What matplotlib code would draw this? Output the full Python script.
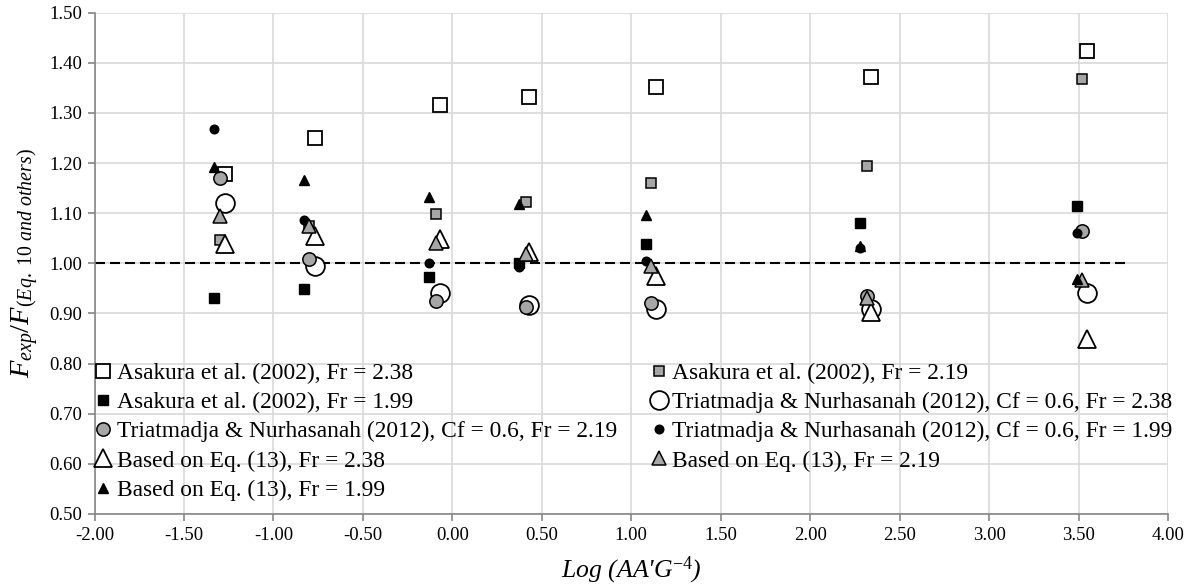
import matplotlib
matplotlib.use("Agg")
import matplotlib.pyplot as plt

plt.rcParams['font.family'] = ['Liberation Serif', 'DejaVu Serif']
plt.rcParams['mathtext.fontset'] = 'custom'
plt.rcParams['mathtext.rm'] = 'Liberation Serif'
plt.rcParams['mathtext.it'] = 'Liberation Serif:italic'
plt.rcParams['mathtext.bf'] = 'Liberation Serif:bold'

# ---- data ----
x_fr238 = [-1.27, -0.77, -0.07, 0.43, 1.14, 2.34, 3.55]
x_fr219 = [-1.30, -0.80, -0.09, 0.41, 1.11, 2.32, 3.52]
x_fr199 = [-1.33, -0.83, -0.13, 0.37, 1.08, 2.28, 3.49]

asakura_238 = [1.179, 1.250, 1.315, 1.331, 1.351, 1.371, 1.424]
asakura_219 = [1.047, 1.075, 1.099, 1.122, 1.160, 1.194, 1.367]
asakura_199 = [0.930, 0.948, 0.972, 1.000, 1.039, 1.080, 1.114]
tri_238 = [1.120, 0.995, 0.940, 0.917, 0.909, 0.909, 0.940]
tri_219 = [1.170, 1.009, 0.924, 0.912, 0.920, 0.935, 1.064]
tri_199 = [1.269, 1.087, 1.001, 0.993, 1.005, 1.031, 1.061]
eq13_238 = [1.039, 1.055, 1.049, 1.022, 0.975, 0.902, 0.849]
eq13_219 = [1.095, 1.075, 1.040, 1.019, 0.995, 0.930, 0.967]
eq13_199 = [1.192, 1.167, 1.133, 1.119, 1.097, 1.035, 0.969]

ref_x = [-2.0, 3.77]
ref_y = [1.0, 1.0]

labels = [
    "Asakura et al. (2002), Fr = 2.38",
    "Asakura et al. (2002), Fr = 2.19",
    "Asakura et al. (2002), Fr = 1.99",
    "Triatmadja & Nurhasanah (2012), Cf = 0.6, Fr = 2.38",
    "Triatmadja & Nurhasanah (2012), Cf = 0.6, Fr = 2.19",
    "Triatmadja & Nurhasanah (2012), Cf = 0.6, Fr = 1.99",
    "Based on Eq. (13), Fr = 2.38",
    "Based on Eq. (13), Fr = 2.19",
    "Based on Eq. (13), Fr = 1.99",
]
xticks = [-2.0, -1.5, -1.0, -0.5, 0.0, 0.5, 1.0, 1.5, 2.0, 2.5, 3.0, 3.5, 4.0]
yticks = [0.5, 0.6, 0.7, 0.8, 0.9, 1.0, 1.1, 1.2, 1.3, 1.4, 1.5]

GREY = '#a6a6a6'
series = [
    (x_fr238, asakura_238, dict(marker='s', ms=9.4, mfc='white', mec='black', mew=1.3)),
    (x_fr219, asakura_219, dict(marker='s', ms=7.8, mfc=GREY, mec='black', mew=1.1)),
    (x_fr199, asakura_199, dict(marker='s', ms=6.6, mfc='black', mec='black', mew=1.0)),
    (x_fr238, tri_238, dict(marker='o', ms=13.5, mfc='white', mec='black', mew=1.3)),
    (x_fr219, tri_219, dict(marker='o', ms=9.6, mfc=GREY, mec='black', mew=1.1)),
    (x_fr199, tri_199, dict(marker='o', ms=6.2, mfc='black', mec='black', mew=1.0)),
    (x_fr238, eq13_238, dict(marker='^', ms=13.0, mfc='white', mec='black', mew=1.3)),
    (x_fr219, eq13_219, dict(marker='^', ms=10.5, mfc=GREY, mec='black', mew=1.1)),
    (x_fr199, eq13_199, dict(marker='^', ms=6.8, mfc='black', mec='black', mew=1.0)),
]

fig = plt.figure(figsize=(11.94, 5.88), dpi=100)
ax = fig.add_axes([94.5/1194, 74/588, 1073.5/1194, 501.3/588])

ax.plot(ref_x, ref_y, color='black', lw=1.5, dashes=(4.8, 2.4), zorder=2)

handles = []
for (xs, ys, st), lab in zip(series, labels):
    h, = ax.plot(xs, ys, linestyle='none', label=lab, zorder=3, **st)
    handles.append(h)

ax.set_xlim(-2.0, 4.0)
ax.set_ylim(0.5, 1.5)
ax.set_xticks(xticks)
ax.set_yticks(yticks)
ax.set_xticklabels([f"{v:.2f}" for v in xticks])
ax.set_yticklabels([f"{v:.2f}" for v in yticks])
ax.grid(True, color='#d9d9d9', lw=1.2, zorder=0)
ax.set_axisbelow(True)
for s in ['top', 'right']:
    ax.spines[s].set_visible(False)
for s in ['left', 'bottom']:
    ax.spines[s].set_color('#868686')
    ax.spines[s].set_linewidth(1.2)
ax.tick_params(axis='both', direction='out', length=5, width=1.2, color='#868686',
               labelsize=13.5, labelcolor='black', pad=4)

ax.set_xlabel("Log (AA'G$^{\\mathit{-4}}$)", fontsize=18.5, fontstyle='italic', labelpad=8)
ax.set_ylabel(r"$F_{\mathit{exp}}/F_{\mathit{(Eq.\ 10\ and\ others)}}$", fontsize=20.5, labelpad=6)

order = [0, 2, 4, 6, 8, 1, 3, 5, 7]
leg = ax.legend([handles[i] for i in order], [labels[i] for i in order], ncol=2,
                loc='upper left', bbox_to_anchor=(0.0, 0.302), frameon=False,
                fontsize=16.9, handlelength=0.75, handletextpad=0.2,
                columnspacing=1.4, labelspacing=0.33, borderpad=0.0, borderaxespad=0.0)

fig.savefig('out.png', dpi=100)
